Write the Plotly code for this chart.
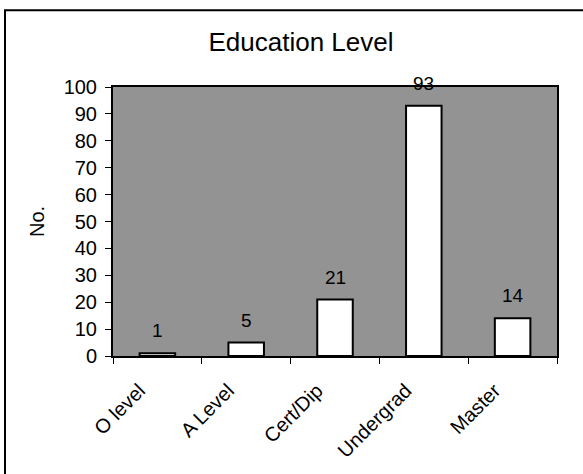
import plotly.graph_objects as go

# Education level counts
categories = ["O level", "A Level", "Cert/Dip", "Undergrad", "Master"]
counts = [1, 5, 21, 93, 14]
y_ticks = list(range(0, 101, 10))

W, H = 583, 474
L, R, T, B = 113, 26, 87, 114
pw, ph = W - L - R, H - T - B

FONT_FAMILY = "Liberation Sans, Arial, sans-serif"
font = dict(family=FONT_FAMILY, size=20, color="black")

fig = go.Figure(
    go.Bar(
        x=categories,
        y=counts,
        marker=dict(color="white", line=dict(color="black", width=2)),
        width=0.4,
        hoverinfo="skip",
        cliponaxis=False,
    )
)

# Value labels above each bar
for c, v in zip(categories, counts):
    fig.add_annotation(
        x=c, y=v, text=str(v), showarrow=False, yanchor="bottom", yshift=10,
        font=dict(family=FONT_FAMILY, size=19, color="black"),
    )

# Outer chart frame, expressed in plot-area paper coordinates
def px_x(p):
    return (p - L) / pw

def px_y(p):
    return (H - B - p) / ph

fig.add_shape(
    type="rect", xref="paper", yref="paper",
    x0=px_x(5), x1=px_x(700), y0=px_y(600), y1=px_y(9),
    line=dict(color="black", width=2), fillcolor="rgba(0,0,0,0)", layer="above",
)

fig.update_layout(
    width=W, height=H,
    margin=dict(l=L, r=R, t=T, b=B, pad=0),
    paper_bgcolor="white",
    plot_bgcolor="#939393",
    showlegend=False,
    font=font,
    title=dict(
        text="Education Level", x=301 / W, xanchor="center",
        y=1 - 42 / H, yanchor="middle",
        font=dict(family=FONT_FAMILY, size=26, color="black"),
    ),
    bargap=0.6,
)

fig.update_xaxes(
    type="category",
    tickangle=-45,
    tickson="boundaries",
    ticks="outside", ticklen=6, tickcolor="black", tickwidth=1,
    ticklabelstandoff=13, ticklabelshift=-18,
    showline=True, linecolor="black", linewidth=2, mirror=True,
    showgrid=False, zeroline=False,
    tickfont=font,
)
fig.update_yaxes(
    range=[0, 100],
    tickvals=y_ticks,
    ticks="outside", ticklen=6, tickcolor="black", tickwidth=1,
    ticklabelstandoff=4,
    showline=True, linecolor="black", linewidth=2, mirror=True,
    showgrid=False, zeroline=False,
    tickfont=font,
    title=dict(text="No.", font=font, standoff=14),
)

fig.write_html("out.html")
